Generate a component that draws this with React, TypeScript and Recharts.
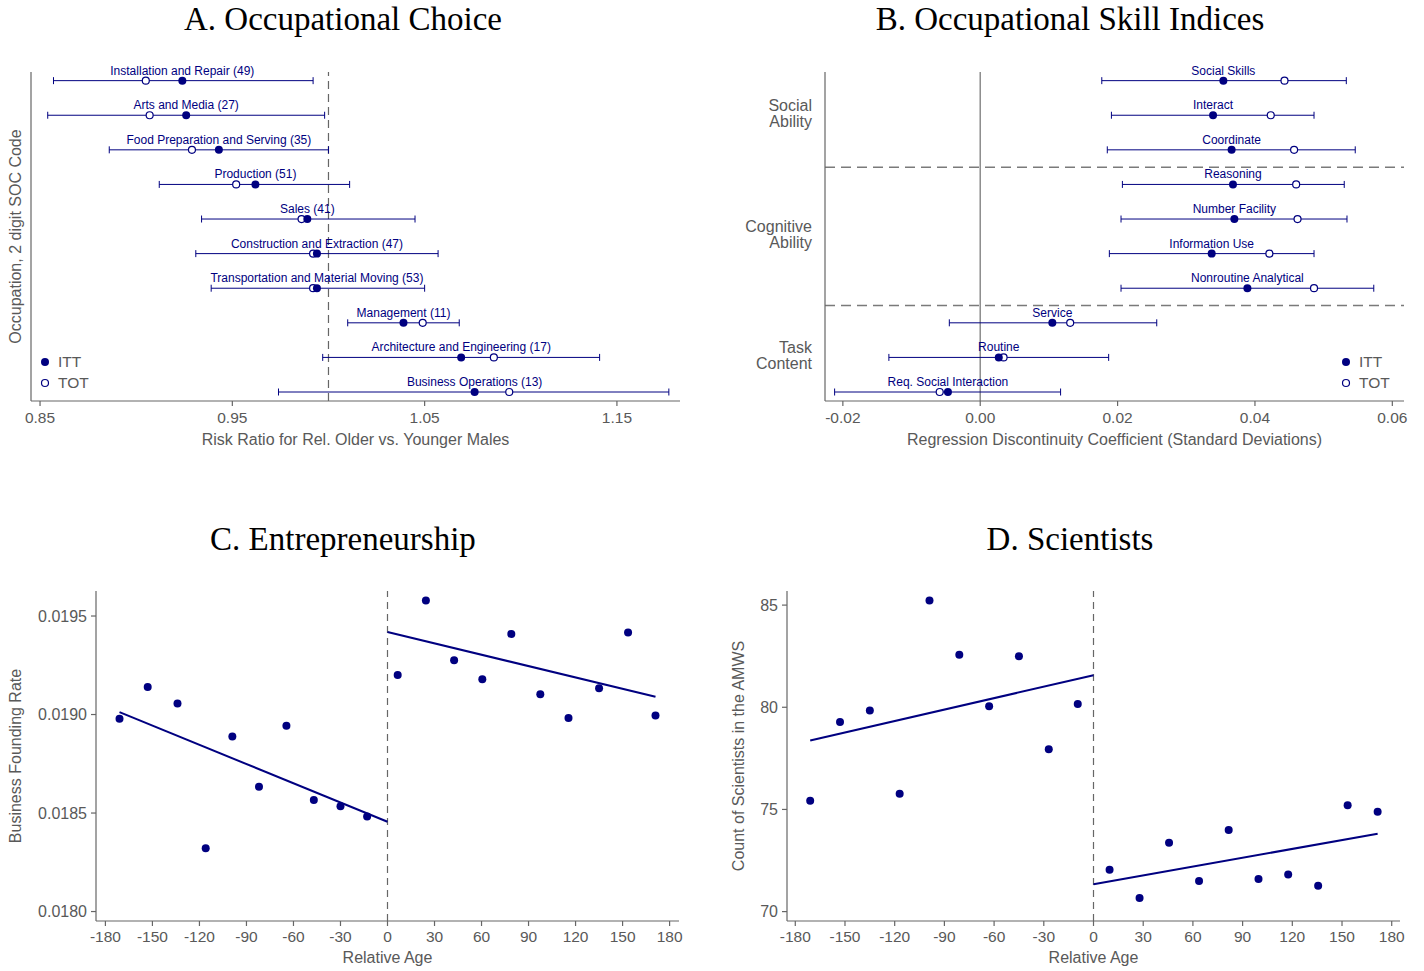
import React from 'react';
import {
  ScatterChart, Scatter, XAxis, YAxis, ReferenceLine, ErrorBar, Legend, Label,
} from 'recharts';

const NAVY = '#000080';
const GREY = '#595959';
const AXIS = '#666666';
const SANS = "'Liberation Sans', Arial, Helvetica, sans-serif";
const SERIF = "'Liberation Serif', 'Times New Roman', serif";

// A. Occupational choice: risk ratios by 2-digit SOC group (ITT, TOT, 95% CI)
const occNames = [
  'Installation and Repair (49)',
  'Arts and Media (27)',
  'Food Preparation and Serving (35)',
  'Production (51)',
  'Sales (41)',
  'Construction and Extraction (47)',
  'Transportation and Material Moving (53)',
  'Management (11)',
  'Architecture and Engineering (17)',
  'Business Operations (13)',
];
const occItt = [0.924, 0.926, 0.943, 0.962, 0.989, 0.994, 0.994, 1.039, 1.069, 1.076];
const occTot = [0.905, 0.907, 0.929, 0.952, 0.986, 0.992, 0.992, 1.049, 1.086, 1.094];
const occLow = [0.857, 0.854, 0.886, 0.912, 0.934, 0.931, 0.939, 1.010, 0.997, 0.974];
const occHigh = [0.992, 0.998, 1.000, 1.011, 1.045, 1.057, 1.050, 1.068, 1.141, 1.177];
const occTicks = [0.85, 0.95, 1.05, 1.15];

// B. Occupational skill indices: RD coefficients in SD units
const skillNames = [
  'Social Skills',
  'Interact',
  'Coordinate',
  'Reasoning',
  'Number Facility',
  'Information Use',
  'Nonroutine Analytical',
  'Service',
  'Routine',
  'Req. Social Interaction',
];
const skillItt = [0.0354, 0.0339, 0.0366, 0.0368, 0.0370, 0.0337, 0.0389, 0.0105, 0.0027, -0.0047];
const skillTot = [0.0443, 0.0423, 0.0457, 0.0460, 0.0462, 0.0421, 0.0486, 0.0131, 0.0034, -0.0059];
const skillLow = [0.0177, 0.0191, 0.0185, 0.0207, 0.0205, 0.0188, 0.0205, -0.0045, -0.0133, -0.0212];
const skillHigh = [0.0533, 0.0486, 0.0546, 0.0530, 0.0534, 0.0486, 0.0573, 0.0257, 0.0187, 0.0117];
const skillTicks = [-0.02, 0, 0.02, 0.04, 0.06];
const skillGroups = ['Social Ability', 'Cognitive Ability', 'Task Content'];
const skillGroupRows = [2, 5.5, 9];
const skillBreaks = [3.5, 7.5];

// C. Entrepreneurship: business founding rate by relative age bin
const entAgeLeft = [-171, -153, -134, -116, -99, -82, -64.5, -47, -30, -13];
const entRateLeft = [0.018978, 0.019140, 0.019056, 0.018321, 0.018889, 0.018633, 0.018943, 0.018566, 0.018535, 0.018483];
const entAgeRight = [6.5, 24.5, 42.5, 60.5, 79, 97.5, 115.5, 135, 153.5, 171];
const entRateRight = [0.019201, 0.019579, 0.019275, 0.019179, 0.019409, 0.019103, 0.018983, 0.019133, 0.019416, 0.018995];
const entFitLeft = [[-171, 0.019012], [0, 0.018456]];
const entFitRight = [[0, 0.019419], [171, 0.019090]];
const entTicks = [0.018, 0.0185, 0.019, 0.0195];

// D. Scientists: count in the AMWS by relative age bin
const sciAgeLeft = [-171, -153, -135, -117, -99, -81, -63, -45, -27, -9.5];
const sciCountLeft = [75.42, 79.28, 79.84, 75.77, 85.23, 82.57, 80.05, 82.5, 77.94, 80.16];
const sciAgeRight = [9.7, 27.8, 45.6, 63.7, 81.6, 99.6, 117.5, 135.6, 153.4, 171.5];
const sciCountRight = [72.05, 70.67, 73.37, 71.5, 73.99, 71.6, 71.82, 71.27, 75.21, 74.89];
const sciFitLeft = [[-171, 78.37], [0, 81.57]];
const sciFitRight = [[0, 71.34], [171.5, 73.81]];
const sciTicks = [70, 75, 80, 85];

const ageTicks = [-180, -150, -120, -90, -60, -30, 0, 30, 60, 90, 120, 150, 180];

const coefRows = (names: string[], itt: number[], tot: number[], low: number[], high: number[]) => ({
  itt: names.map((name, i) => ({ x: itt[i], y: i + 1, name, ci: [itt[i] - low[i], high[i] - itt[i]] })),
  tot: names.map((name, i) => ({ x: tot[i], y: i + 1, name })),
});
const points = (xs: number[], ys: number[]) => xs.map((x, i) => ({ x, y: ys[i] }));
const segment = (pts: number[][]) => pts.map(([x, y]) => ({ x, y }));

const xTickStyle = { fontSize: 15.5, fill: GREY, fontFamily: SANS };
const yTickStyle = { fontSize: 16, fill: GREY, fontFamily: SANS };
const titleStyle = { fontSize: 16, fill: GREY, fontFamily: SANS };
const axisLine = { stroke: AXIS, strokeWidth: 1.2 };

const Filled = (p: any) => <circle cx={p.cx} cy={p.cy} r={4} fill={NAVY} />;
const Hollow = (p: any) => (
  <circle cx={p.cx} cy={p.cy} r={3.5} fill="#fff" stroke={NAVY} strokeWidth={1.2} />
);
const Named = (p: any) => (
  <g>
    <text x={p.cx} y={p.cy - 6} textAnchor="middle" fontSize={12} fill={NAVY} fontFamily={SANS}>
      {p.payload.name}
    </text>
    <circle cx={p.cx} cy={p.cy} r={4} fill={NAVY} />
  </g>
);
const Nothing = () => <g />;

const KeyContent = ({ payload }: any) => {
  const items = (payload || [])
    .filter((it: any) => it.value === 'ITT' || it.value === 'TOT')
    .sort((a: any, b: any) => String(a.value).localeCompare(String(b.value)));
  return (
    <div style={{ fontFamily: SANS, fontSize: 15.5, color: GREY }}>
      {items.map((it: any) => (
        <div key={it.value} style={{ display: 'flex', alignItems: 'center', height: 21 }}>
          <svg width={18} height={12}>
            {it.value === 'ITT'
              ? <circle cx={5} cy={6} r={4} fill={NAVY} />
              : <circle cx={5} cy={6} r={3.5} fill="#fff" stroke={NAVY} strokeWidth={1.2} />}
          </svg>
          <span>{it.value}</span>
        </div>
      ))}
    </div>
  );
};

const GroupTick = ({ x, y, payload }: any) => {
  const words = skillGroups[skillGroupRows.indexOf(payload.value)].split(' ');
  return (
    <text x={x} y={y} textAnchor="end" fontSize={16} fill={GREY} fontFamily={SANS}>
      <tspan x={x} dy={-4}>{words[0]}</tspan>
      <tspan x={x} dy={16}>{words[1]}</tspan>
    </text>
  );
};

const ROW_DOMAIN = [0.75, 10.26];

function CoefPanel({ rows, width, domain, ticks, fmt, xLabel, yAxis, keyLeft, children }: any) {
  return (
    <ScatterChart width={width} height={470} margin={{ top: 72, right: 20, bottom: 9, left: 0 }}>
      <XAxis
        type="number" dataKey="x" domain={domain} ticks={ticks} allowDataOverflow
        tickFormatter={fmt} height={60} tickSize={5} tickMargin={6}
        axisLine={axisLine} tickLine={axisLine} tick={xTickStyle} interval={0}
      >
        <Label value={xLabel} position="insideBottom" offset={16} style={titleStyle} />
      </XAxis>
      {yAxis}
      {children}
      <Scatter data={rows.itt} shape={Nothing} legendType="none" isAnimationActive={false}>
        <ErrorBar dataKey="ci" direction="x" width={3.5} stroke={NAVY} strokeWidth={1} />
      </Scatter>
      <Scatter name="TOT" data={rows.tot} shape={Hollow} isAnimationActive={false} />
      <Scatter name="ITT" data={rows.itt} shape={Named} isAnimationActive={false} />
      <Legend
        layout="vertical" align="center" verticalAlign="middle" content={KeyContent}
        wrapperStyle={{ left: keyLeft, top: 351, width: 70, height: 42 }}
      />
    </ScatterChart>
  );
}

function OccupationPanel() {
  const rows = coefRows(occNames, occItt, occTot, occLow, occHigh);
  return (
    <CoefPanel
      rows={rows} width={700} domain={[0.8453, 1.1828]} ticks={occTicks}
      fmt={(v: number) => v.toFixed(2)} xLabel="Risk Ratio for Rel. Older vs. Younger Males" keyLeft={40}
      yAxis={
        <YAxis type="number" dataKey="y" domain={ROW_DOMAIN} reversed width={31} tick={false} tickLine={false} axisLine={axisLine}>
          <Label value="Occupation, 2 digit SOC Code" angle={-90} position="insideLeft" offset={15}
            style={{ ...titleStyle, textAnchor: 'middle' }} />
        </YAxis>
      }
    >
      <ReferenceLine x={1} stroke={AXIS} strokeDasharray="8 5" strokeWidth={1.2} />
    </CoefPanel>
  );
}

function SkillPanel() {
  const rows = coefRows(skillNames, skillItt, skillTot, skillLow, skillHigh);
  return (
    <CoefPanel
      rows={rows} width={724} domain={[-0.0226, 0.0617]} ticks={skillTicks}
      fmt={(v: number) => v.toFixed(2)} xLabel="Regression Discontinuity Coefficient (Standard Deviations)" keyLeft={641}
      yAxis={
        <YAxis type="number" dataKey="y" domain={ROW_DOMAIN} reversed width={125} ticks={skillGroupRows}
          interval={0} tick={GroupTick} tickLine={false} tickSize={0} tickMargin={13} axisLine={axisLine} />
      }
    >
      <ReferenceLine x={0} stroke="#8c8c8c" strokeWidth={1.5} />
      {skillBreaks.map((b) => (
        <ReferenceLine key={b} y={b} stroke="#7a7a7a" strokeDasharray="10 6" strokeWidth={1.5} />
      ))}
    </CoefPanel>
  );
}

function BinPanel({ width, plotWidth, left, right, fitLeft, fitRight, xDomain, yDomain, yTicks, fmt, yWidth, yLabel, yLabelOffset }: any) {
  return (
    <ScatterChart width={width} height={501} margin={{ top: 121, right: width - yWidth - plotWidth, bottom: 5, left: 0 }}>
      <XAxis
        type="number" dataKey="x" domain={xDomain} ticks={ageTicks} allowDataOverflow interval={0}
        height={45} tickSize={5} tickMargin={5} axisLine={axisLine} tickLine={axisLine} tick={xTickStyle}
      >
        <Label value="Relative Age" position="insideBottom" offset={3} style={titleStyle} />
      </XAxis>
      <YAxis
        type="number" dataKey="y" domain={yDomain} ticks={yTicks} allowDataOverflow interval={0}
        tickFormatter={fmt} width={yWidth} tickSize={5} tickMargin={4}
        axisLine={axisLine} tickLine={axisLine} tick={yTickStyle}
      >
        <Label value={yLabel} angle={-90} position="insideLeft" offset={yLabelOffset}
          style={{ ...titleStyle, textAnchor: 'middle' }} />
      </YAxis>
      <ReferenceLine x={0} stroke={AXIS} strokeDasharray="7 5" strokeWidth={1.2} />
      <ReferenceLine segment={segment(fitLeft)} stroke={NAVY} strokeWidth={2} />
      <ReferenceLine segment={segment(fitRight)} stroke={NAVY} strokeWidth={2} />
      <Scatter data={left} shape={Filled} isAnimationActive={false} />
      <Scatter data={right} shape={Filled} isAnimationActive={false} />
    </ScatterChart>
  );
}

const PanelTitle = ({ cx, top, children }: any) => (
  <div style={{
    position: 'absolute', left: cx - 300, top, width: 600, textAlign: 'center',
    fontFamily: SERIF, fontSize: 33, lineHeight: '33px', color: '#000',
  }}>
    {children}
  </div>
);

export default function App() {
  return (
    <div style={{ position: 'absolute', left: 0, top: 0, width: 1424, height: 971, background: '#fff', overflow: 'hidden' }}>
      <div style={{ position: 'absolute', left: 0, top: 0 }}><OccupationPanel /></div>
      <div style={{ position: 'absolute', left: 700, top: 0 }}><SkillPanel /></div>
      <div style={{ position: 'absolute', left: 0, top: 470 }}>
        <BinPanel
          width={700} plotWidth={583} left={points(entAgeLeft, entRateLeft)} right={points(entAgeRight, entRateRight)}
          fitLeft={entFitLeft} fitRight={entFitRight} xDomain={[-186, 186]} yDomain={[0.017952, 0.019627]}
          yTicks={entTicks} fmt={(v: number) => v.toFixed(4)} yWidth={96}
          yLabel="Business Founding Rate" yLabelOffset={15}
        />
      </div>
      <div style={{ position: 'absolute', left: 700, top: 470 }}>
        <BinPanel
          width={724} plotWidth={613} left={points(sciAgeLeft, sciCountLeft)} right={points(sciAgeRight, sciCountRight)}
          fitLeft={sciFitLeft} fitRight={sciFitRight} xDomain={[-185, 185]} yDomain={[69.54, 85.69]}
          yTicks={sciTicks} fmt={(v: number) => String(v)} yWidth={87}
          yLabel="Count of Scientists in the AMWS" yLabelOffset={38}
        />
      </div>
      <PanelTitle cx={343} top={3}>A. Occupational Choice</PanelTitle>
      <PanelTitle cx={1070} top={3}>B. Occupational Skill Indices</PanelTitle>
      <PanelTitle cx={343} top={523}>C. Entrepreneurship</PanelTitle>
      <PanelTitle cx={1070} top={523}>D. Scientists</PanelTitle>
    </div>
  );
}
